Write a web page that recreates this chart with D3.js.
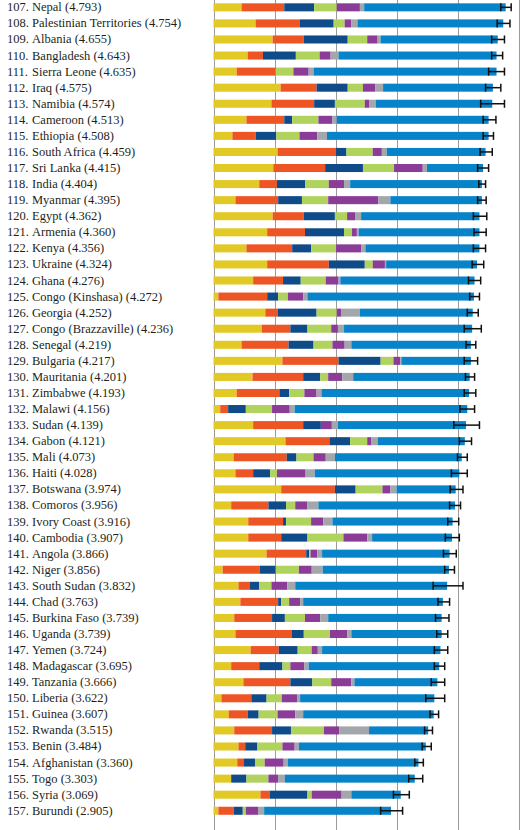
<!DOCTYPE html>
<html>
<head>
<meta charset="utf-8">
<script src="https://cdn.jsdelivr.net/npm/d3@7"></script>
<style>
  body { margin: 0; background: #fff; }
  .label { font-family: 'Liberation Serif', serif; font-size: 12.5px; fill: #231f20; }
  .grid line { stroke: #9b9b9b; stroke-width: 1; }
  .grid path { display: none; }
</style>
</head>
<body>
<div id="chart"></div>
<script>
const ranks = d3.range(107, 158);
const countries = ['Nepal', 'Palestinian Territories', 'Albania', 'Bangladesh', 'Sierra Leone', 'Iraq', 'Namibia', 'Cameroon', 'Ethiopia', 'South Africa', 'Sri Lanka', 'India', 'Myanmar', 'Egypt', 'Armenia', 'Kenya', 'Ukraine', 'Ghana', 'Congo (Kinshasa)', 'Georgia', 'Congo (Brazzaville)', 'Senegal', 'Bulgaria', 'Mauritania', 'Zimbabwe', 'Malawi', 'Sudan', 'Gabon', 'Mali', 'Haiti', 'Botswana', 'Comoros', 'Ivory Coast', 'Cambodia', 'Angola', 'Niger', 'South Sudan', 'Chad', 'Burkina Faso', 'Uganda', 'Yemen', 'Madagascar', 'Tanzania', 'Liberia', 'Guinea', 'Rwanda', 'Benin', 'Afghanistan', 'Togo', 'Syria', 'Burundi'];
const scores = [4.793, 4.754, 4.655, 4.643, 4.635, 4.575, 4.574, 4.513, 4.508, 4.459, 4.415, 4.404, 4.395, 4.362, 4.360, 4.356, 4.324, 4.276, 4.272, 4.252, 4.236, 4.219, 4.217, 4.201, 4.193, 4.156, 4.139, 4.121, 4.073, 4.028, 3.974, 3.956, 3.916, 3.907, 3.866, 3.856, 3.832, 3.763, 3.739, 3.739, 3.724, 3.695, 3.666, 3.622, 3.607, 3.515, 3.484, 3.360, 3.303, 3.069, 2.905];

// components of each bar
const gdp = [0.46, 0.69, 0.97, 0.56, 0.38, 1.10, 0.95, 0.54, 0.31, 1.05, 0.98, 0.75, 0.36, 0.97, 0.88, 0.54, 0.88, 0.65, 0.08, 0.85, 0.79, 0.46, 1.13, 0.64, 0.38, 0.11, 0.65, 1.18, 0.33, 0.36, 1.11, 0.29, 0.57, 0.57, 0.87, 0.15, 0.41, 0.44, 0.34, 0.36, 0.61, 0.29, 0.49, 0.13, 0.25, 0.34, 0.41, 0.39, 0.29, 0.77, 0.08];
const social = [0.70, 0.72, 0.51, 0.25, 0.64, 0.59, 0.70, 0.62, 0.38, 0.95, 0.85, 0.29, 0.70, 0.51, 0.62, 0.75, 1.01, 0.49, 0.80, 0.20, 0.47, 0.77, 0.92, 0.83, 0.70, 0.13, 0.82, 0.72, 0.87, 0.29, 0.88, 0.61, 0.57, 0.54, 0.65, 0.61, 0.18, 0.62, 0.62, 0.92, 0.46, 0.46, 0.77, 0.49, 0.31, 0.62, 0.11, 0.11, 0.00, 0.15, 0.25];
const health = [0.49, 0.56, 0.72, 0.54, 0.00, 0.51, 0.34, 0.13, 0.34, 0.18, 0.62, 0.46, 0.39, 0.51, 0.64, 0.31, 0.59, 0.29, 0.18, 0.64, 0.28, 0.41, 0.69, 0.28, 0.16, 0.29, 0.29, 0.34, 0.16, 0.28, 0.34, 0.29, 0.05, 0.43, 0.05, 0.26, 0.16, 0.05, 0.21, 0.20, 0.31, 0.38, 0.36, 0.25, 0.18, 0.31, 0.20, 0.18, 0.25, 0.62, 0.15];
const freedom = [0.37, 0.18, 0.32, 0.39, 0.29, 0.25, 0.49, 0.43, 0.38, 0.43, 0.51, 0.39, 0.43, 0.20, 0.13, 0.41, 0.13, 0.41, 0.16, 0.33, 0.39, 0.31, 0.21, 0.13, 0.25, 0.43, 0.00, 0.28, 0.28, 0.11, 0.44, 0.15, 0.41, 0.59, 0.02, 0.38, 0.20, 0.13, 0.33, 0.43, 0.23, 0.13, 0.31, 0.25, 0.31, 0.54, 0.41, 0.16, 0.36, 0.07, 0.05];
const generosity = [0.38, 0.11, 0.17, 0.18, 0.25, 0.20, 0.07, 0.23, 0.29, 0.15, 0.47, 0.25, 0.82, 0.13, 0.08, 0.41, 0.20, 0.21, 0.25, 0.07, 0.11, 0.20, 0.11, 0.23, 0.20, 0.29, 0.18, 0.07, 0.20, 0.47, 0.13, 0.20, 0.20, 0.39, 0.11, 0.21, 0.26, 0.18, 0.25, 0.28, 0.10, 0.23, 0.33, 0.25, 0.29, 0.25, 0.20, 0.31, 0.16, 0.49, 0.20];
const corruption = [0.07, 0.10, 0.05, 0.13, 0.08, 0.13, 0.11, 0.07, 0.16, 0.08, 0.07, 0.10, 0.20, 0.10, 0.03, 0.07, 0.02, 0.03, 0.07, 0.31, 0.10, 0.11, 0.02, 0.18, 0.08, 0.08, 0.10, 0.10, 0.15, 0.15, 0.10, 0.18, 0.15, 0.08, 0.08, 0.18, 0.13, 0.05, 0.13, 0.07, 0.07, 0.07, 0.05, 0.05, 0.13, 0.49, 0.07, 0.07, 0.11, 0.16, 0.10];
const residual = [2.32, 2.39, 1.92, 2.59, 3.00, 1.80, 1.91, 2.49, 2.65, 1.62, 0.92, 2.16, 1.50, 1.94, 1.98, 1.87, 1.49, 2.20, 2.73, 1.85, 2.10, 1.96, 1.14, 1.91, 2.42, 2.83, 2.10, 1.43, 2.08, 2.37, 0.97, 2.24, 1.97, 1.31, 2.09, 2.07, 2.49, 2.29, 1.86, 1.48, 1.94, 2.14, 1.36, 2.20, 2.14, 0.97, 2.08, 2.14, 2.13, 0.81, 2.08];

// 95% confidence interval
const ciLow = [4.71, 4.65, 4.56, 4.56, 4.51, 4.46, 4.38, 4.42, 4.42, 4.37, 4.33, 4.35, 4.33, 4.26, 4.27, 4.26, 4.24, 4.18, 4.20, 4.16, 4.11, 4.14, 4.11, 4.13, 4.11, 4.04, 3.94, 4.03, 4.00, 3.90, 3.88, 3.87, 3.84, 3.80, 3.77, 3.79, 3.60, 3.68, 3.64, 3.66, 3.62, 3.62, 3.57, 3.48, 3.55, 3.46, 3.42, 3.30, 3.20, 2.95, 2.74];
const ciHigh = [4.88, 4.86, 4.77, 4.74, 4.77, 4.71, 4.77, 4.63, 4.59, 4.57, 4.51, 4.46, 4.47, 4.48, 4.47, 4.46, 4.43, 4.38, 4.36, 4.34, 4.39, 4.30, 4.33, 4.28, 4.30, 4.28, 4.36, 4.23, 4.16, 4.16, 4.09, 4.05, 4.02, 4.03, 3.98, 3.95, 4.09, 3.87, 3.86, 3.84, 3.84, 3.79, 3.79, 3.79, 3.69, 3.59, 3.57, 3.44, 3.43, 3.21, 3.10];

const keys = ['gdp', 'social', 'health', 'freedom', 'generosity', 'corruption', 'residual'];
const colors = ['#e2c925', '#ee5525', '#0f4b88', '#afd35d', '#8a3c97', '#a3a6ab', '#0783c9'];

const width = 531;
const height = 830;

const rows = ranks.map((r, i) => ({
  rank: r,
  country: countries[i],
  score: scores[i],
  gdp: gdp[i],
  social: social[i],
  health: health[i],
  freedom: freedom[i],
  generosity: generosity[i],
  corruption: corruption[i],
  residual: residual[i],
  lo: ciLow[i],
  hi: ciHigh[i]
}));

const svg = d3
  .select('#chart')
  .append('svg')
  .attr('width', width)
  .attr('height', height);

const xScale = d3.scaleLinear().domain([0, 5]).range([213.5, 518.5]);
const yScale = d3
  .scaleBand()
  .domain(ranks)
  .range([-0.7, 818.8])
  .paddingInner(0.5)
  .paddingOuter(0.25);

// vertical grid lines
const grid = svg
  .append('g')
  .attr('class', 'grid')
  .attr('transform', `translate(0, ${height})`)
  .call(
    d3
      .axisBottom(xScale)
      .tickValues(d3.range(0, 6))
      .tickSize(-height)
      .tickFormat('')
  );
grid.selectAll('line').attr('transform', 'translate(0.5, 0)');

// stacked bars
const stack = d3.stack().keys(keys);
const series = stack(rows);

svg
  .append('g')
  .selectAll('g')
  .data(series)
  .join('g')
  .attr('fill', (d, i) => colors[i])
  .selectAll('rect')
  .data((d) => d)
  .join('rect')
  .attr('x', (d) => xScale(d[0]))
  .attr('y', (d) => yScale(d.data.rank))
  .attr('width', (d) => xScale(d[1]) - xScale(d[0]))
  .attr('height', yScale.bandwidth());

// error bars
const err = svg
  .append('g')
  .attr('stroke', '#111')
  .attr('stroke-width', 1.5)
  .selectAll('g')
  .data(rows)
  .join('g')
  .attr('transform', (d) => `translate(0, ${yScale(d.rank) + yScale.bandwidth() / 2})`);

err
  .append('line')
  .attr('x1', (d) => xScale(d.lo))
  .attr('x2', (d) => xScale(d.hi));
err
  .append('line')
  .attr('x1', (d) => xScale(d.lo))
  .attr('x2', (d) => xScale(d.lo))
  .attr('y1', -4)
  .attr('y2', 4);
err
  .append('line')
  .attr('x1', (d) => xScale(d.hi))
  .attr('x2', (d) => xScale(d.hi))
  .attr('y1', -4)
  .attr('y2', 4);

// labels
const labels = svg
  .append('g')
  .selectAll('g')
  .data(rows)
  .join('g')
  .attr('transform', (d) => `translate(0, ${yScale(d.rank) + yScale.bandwidth() / 2 + 4})`);

labels
  .append('text')
  .attr('class', 'label')
  .attr('x', 7)
  .text((d) => `${d.rank}.`);

labels
  .append('text')
  .attr('class', 'label')
  .attr('x', 32)
  .text((d) => `${d.country} (${d.score.toFixed(3)})`);
</script>
</body>
</html>
